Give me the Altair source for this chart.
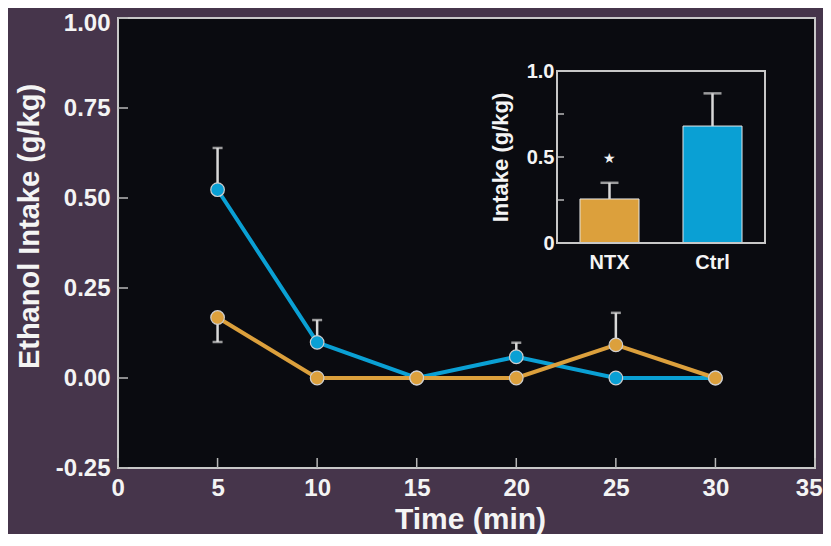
import altair as alt
import pandas as pd

# ---------------- data ----------------
time = [5, 10, 15, 20, 25, 30]
ctrl = [0.523, 0.099, 0.0, 0.059, 0.0, 0.0]
ntx = [0.168, 0.0, 0.0, 0.0, 0.092, 0.0]
ctrl_err = [0.639, 0.161, None, 0.098, None, None]
ntx_err = [0.100, None, None, None, 0.181, None]

inset_groups = ["NTX", "Ctrl"]
inset_mean = [0.256, 0.680]
inset_err = [0.350, 0.870]
inset_star = [0.490, None]

x_ticks = [0, 5, 10, 15, 20, 25, 30, 35]
y_ticks = [-0.25, 0.0, 0.25, 0.5, 0.75, 1.0]
inset_ticks = [0.0, 0.25, 0.5, 0.75, 1.0]
inset_labels = [0.0, 0.5, 1.0]

# ---------------- styles ----------------
BG = "#46354b"
PLOT = "#0a0b10"
BLUE = "#0aa0d4"
ORANGE = "#dca03c"
FRAME = "#c8c8c8"
TICK = "#b8b8b8"
ERR = "#d8d8d8"
TEXT = "#f4f4f4"
FONT = "Liberation Sans"

W, H = 697, 450
IX0, IX1, IY0, IY1 = 439, 647, 53, 225  # inset box, px inside plot

# ---------------- frames ----------------
rows = []
for s, vals, errs in (("Ctrl", ctrl, ctrl_err), ("NTX", ntx, ntx_err)):
    for t, v, e in zip(time, vals, errs):
        rows.append({"series": s, "time": t, "value": v, "err": e})
df = pd.DataFrame(rows)
df_err = df.dropna(subset=["err"])

inset_df = pd.DataFrame({"group": inset_groups, "mean": inset_mean,
                         "err": inset_err, "star": inset_star})
star_df = inset_df.dropna(subset=["star"])


def xs():
    return alt.Scale(domain=[0, 35], nice=False, zero=False)


def ys():
    return alt.Scale(domain=[-0.25, 1.0], nice=False, zero=False)


def ixs():
    return alt.Scale(domain=inset_groups, range=[IX0, IX1],
                     paddingInner=0.427, paddingOuter=0.223)


def iys():
    return alt.Scale(domain=[0, 1], range=[IY1, IY0], nice=False, zero=False)


series_scale = alt.Scale(domain=["Ctrl", "NTX"], range=[BLUE, ORANGE])

x_axis = alt.Axis(values=x_ticks, format="d", ticks=False, domain=False,
                  grid=False, labelFontSize=24, labelPadding=8,
                  labelFlush=True, labelFlushOffset=7, labelOverlap=False,
                  title="Time (min)", titleFontSize=30,
                  titleBaseline="alphabetic", titleX=352, titleY=60)
y_axis = alt.Axis(values=y_ticks, ticks=False, domain=False,
                  grid=False, labelFontSize=24, labelPadding=8,
                  labelFlush=False, labelOverlap=False,
                  labelOffset={"condition": {"test": "datum.value == 1", "value": 5},
                               "value": 0},
                  labelExpr="(datum.value < 0 ? '-' : '') + format(abs(datum.value), '.2f')",
                  title="Ethanol Intake (g/kg)", titleFontSize=29,
                  titleBaseline="alphabetic", titleAngle=270,
                  titleX=-80, titleY=208)

lines = alt.Chart(df).mark_line(strokeWidth=4).encode(
    x=alt.X("time:Q", scale=xs(), axis=x_axis),
    y=alt.Y("value:Q", scale=ys(), axis=y_axis),
    color=alt.Color("series:N", scale=series_scale, legend=None),
    order=alt.Order("time:Q"),
)

err_rules = alt.Chart(df_err).mark_rule(color=ERR, strokeWidth=2.5).encode(
    x=alt.X("time:Q", scale=xs(), axis=None),
    y=alt.Y("value:Q", scale=ys(), axis=None),
    y2="err:Q",
)
err_caps = alt.Chart(df_err).mark_tick(color=ERR, orient="horizontal",
                                       size=10, thickness=2.5).encode(
    x=alt.X("time:Q", scale=xs(), axis=None),
    y=alt.Y("err:Q", scale=ys(), axis=None),
)

points = alt.Chart(df).mark_circle(size=185, opacity=1, stroke="#cfcfcf",
                                   strokeWidth=1.2).encode(
    x=alt.X("time:Q", scale=xs(), axis=None),
    y=alt.Y("value:Q", scale=ys(), axis=None),
    fill=alt.Fill("series:N", scale=series_scale, legend=None),
    order=alt.Order("series:N"),
)

left_ticks = alt.Chart(pd.DataFrame({"v": y_ticks})).mark_rule(
    color=TICK, strokeWidth=1.5).encode(
    y=alt.Y("v:Q", scale=ys(), axis=None),
    x=alt.value(0), x2=alt.value(10),
)
bottom_ticks = alt.Chart(pd.DataFrame({"v": x_ticks})).mark_rule(
    color=TICK, strokeWidth=1.5).encode(
    x=alt.X("v:Q", scale=xs(), axis=None),
    y=alt.value(H), y2=alt.value(H - 10),
)

# ---------------- inset ----------------
ix_axis = alt.Axis(orient="bottom", offset=IY1 - H, ticks=False, domain=False,
                   grid=False, labelAngle=0, labelFontSize=20,
                   labelPadding=9, title=None)
iy_axis = alt.Axis(orient="left", offset=-IX0, values=inset_labels,
                   ticks=False, domain=False, grid=False, labelFontSize=20,
                   labelPadding=3, labelOverlap=False, labelFlush=False,
                   labelExpr="datum.value == 0 ? '0' : format(datum.value, '.1f')",
                   title="Intake (g/kg)", titleFontSize=22, titleAngle=270,
                   titleBaseline="alphabetic", titleX=-50,
                   titleY=(IY0 + IY1) / 2)

bars = alt.Chart(inset_df).mark_bar(stroke="#e6e6e6", strokeWidth=1).encode(
    x=alt.X("group:N", scale=ixs(), axis=ix_axis, sort=inset_groups),
    y=alt.Y("mean:Q", scale=iys(), axis=iy_axis),
    y2=alt.datum(0),
    fill=alt.Fill("group:N", scale=series_scale, legend=None),
)
ibar_err = alt.Chart(inset_df).mark_rule(color=ERR, strokeWidth=2.5).encode(
    x=alt.X("group:N", scale=ixs(), axis=None, sort=inset_groups),
    y=alt.Y("mean:Q", scale=iys(), axis=None),
    y2="err:Q",
)
ibar_cap = alt.Chart(inset_df).mark_tick(color=ERR, orient="horizontal",
                                         size=18, thickness=2.5).encode(
    x=alt.X("group:N", scale=ixs(), axis=None, sort=inset_groups),
    y=alt.Y("err:Q", scale=iys(), axis=None),
)
istar = alt.Chart(star_df).mark_text(text="★", fontSize=14, color="#f0f0f0",
                                     baseline="middle").encode(
    x=alt.X("group:N", scale=ixs(), axis=None, sort=inset_groups),
    y=alt.Y("star:Q", scale=iys(), axis=None),
)
iticks = alt.Chart(pd.DataFrame({"v": inset_ticks})).mark_rule(
    color=TICK, strokeWidth=1.5).encode(
    y=alt.Y("v:Q", scale=iys(), axis=None),
    x=alt.value(IX0), x2=alt.value(IX0 + 7),
)
iframe = alt.Chart(pd.DataFrame({"k": [0]})).mark_rect(
    fillOpacity=0, stroke=FRAME, strokeWidth=2).encode(
    x=alt.value(IX0), x2=alt.value(IX1),
    y=alt.value(IY0), y2=alt.value(IY1),
)

chart = alt.layer(
    lines, left_ticks, bottom_ticks, err_rules, err_caps, points,
    bars, ibar_err, ibar_cap, istar, iticks, iframe,
).resolve_scale(
    x="independent", y="independent"
).properties(
    width=W, height=H,
    autosize=alt.AutoSizeParams(type="none"),
    padding={"left": 110, "top": 10, "right": 8, "bottom": 66},
).configure(
    background=BG, font=FONT,
).configure_view(
    fill=PLOT, stroke=FRAME, strokeWidth=2,
).configure_axis(
    labelColor=TEXT, titleColor=TEXT, labelFont=FONT, titleFont=FONT,
    labelFontWeight="bold", titleFontWeight="bold",
)

chart.save("out.html", embed_options={"renderer": "svg", "actions": False})
